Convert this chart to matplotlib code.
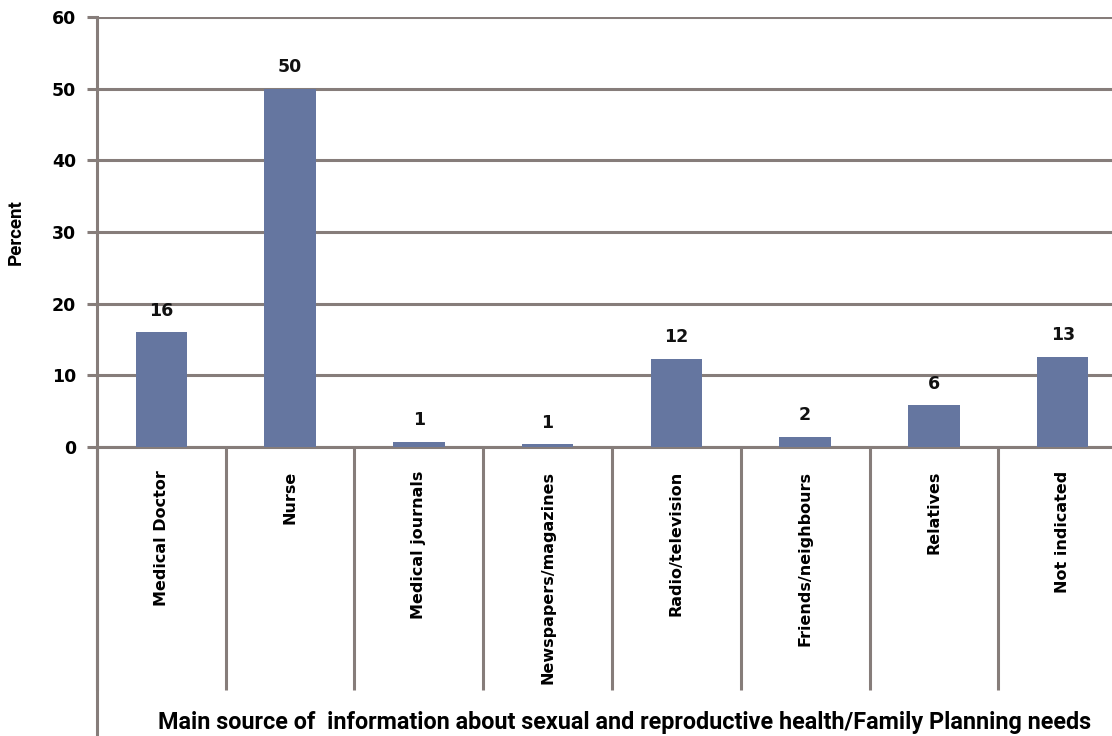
import matplotlib.pyplot as plt
import numpy as np

# --- Data ---
categories = ["Medical Doctor", "Nurse", "Medical journals", "Newspapers/magazines",
              "Radio/television", "Friends/neighbours", "Relatives", "Not indicated"]
percent = [16, 50, 0.75, 0.35, 12.3, 1.45, 5.8, 12.6]
value_labels = ["16", "50", "1", "1", "12", "2", "6", "13"]
y_ticks = [0, 10, 20, 30, 40, 50, 60]

bar_color = "#6576a0"
line_color = "#867d7a"

# --- Plot ---
fig = plt.figure(figsize=(11.12, 7.36), dpi=100)
ax = fig.add_axes([0.0872, 0.3927, 0.9263, 0.5842])

x = np.arange(len(categories))
ax.bar(x + 0.5, percent, width=0.4, color=bar_color, zorder=3)

for xi, v, lab in zip(x, percent, value_labels):
    ax.annotate(lab, (xi + 0.5, v), xytext=(0, 9), textcoords="offset points",
                ha="center", va="bottom", fontsize=12.5, fontweight="bold", color="#111111")

ax.set_xlim(0, len(categories))
ax.set_ylim(0, 60)

# horizontal grid
ax.set_yticks(y_ticks)
ax.yaxis.grid(True, color=line_color, linewidth=2.2, zorder=1)
ax.tick_params(axis="y", length=7, width=2.2, color=line_color, labelsize=12.5, pad=8)
for t in ax.get_yticklabels():
    t.set_fontweight("bold")

# category separators as long x ticks, labels on minor ticks
ax.set_xticks(np.arange(len(categories) + 1))
ax.set_xticklabels([])
ax.tick_params(axis="x", which="major", length=175, width=2.2, color=line_color, direction="out")
ax.set_xticks(x + 0.5, minor=True)
ax.set_xticklabels(categories, minor=True, rotation=90, fontsize=11.5, fontweight="bold",
                   va="top", ha="center")
ax.tick_params(axis="x", which="minor", length=0, pad=17)

for s in ["top", "right"]:
    ax.spines[s].set_visible(False)
ax.spines["bottom"].set_color(line_color)
ax.spines["bottom"].set_linewidth(2.2)
ax.spines["left"].set_color(line_color)
ax.spines["left"].set_linewidth(2.2)
ax.spines["left"].set_bounds(-41, 60)

ax.set_ylabel("Percent", fontsize=13.5, fontweight="bold",
              family=["Roboto", "DejaVu Sans"])
ax.yaxis.set_label_coords(-0.07, 0.5)
fig.text(0.562, 0.019, "Main source of  information about sexual and reproductive health/Family Planning needs",
         ha="center", va="center", fontsize=16.8, fontweight="bold",
         family=["Roboto", "DejaVu Sans"])

plt.savefig("out.png", dpi=100)
